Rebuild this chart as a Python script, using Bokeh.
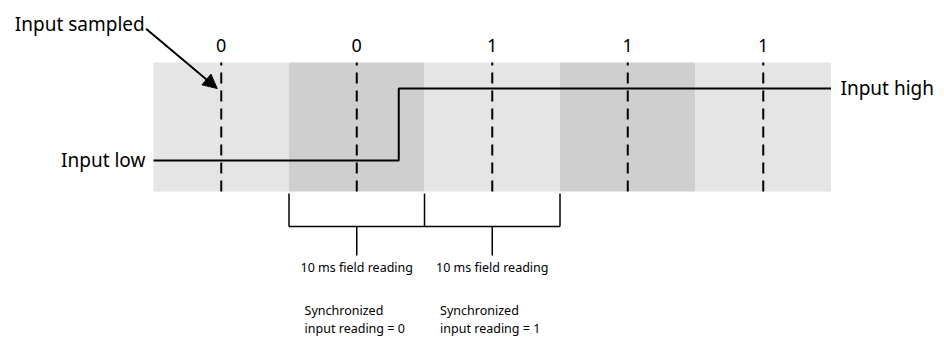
from bokeh.plotting import figure
from bokeh.models import ColumnDataSource, Range1d, Arrow, NormalHead
from bokeh.core.properties import value
from bokeh.embed import file_html
from bokeh.resources import INLINE

# ---- data (time in 10 ms field slots, level 0 = low, 1 = high) ----
slots = [0, 1, 2, 3, 4]
slot_shade = ["#e5e5e5", "#d0cfd0", "#e5e5e5", "#d0cfd0", "#e5e5e5"]
sample_values = ["0", "0", "1", "1", "1"]
input_time = [0, 1.81, 1.81, 5]
input_level = [0, 0, 1, 1]
reading_start = [1, 2]
reading_end = [2, 3]
reading_label = ["10 ms field reading", "10 ms field reading"]
sync_label_1 = ["Synchronized", "Synchronized"]
sync_label_2 = ["input reading = 0", "input reading = 1"]

FONT = value("Noto Sans")

p = figure(width=944, height=339, output_backend="svg", toolbar_location=None,
           x_range=Range1d(-1.1292, 5.8376), y_range=Range1d(-2.486, 2.222),
           min_border=0)
p.axis.visible = False
p.grid.visible = False
p.outline_line_color = None
p.background_fill_color = "white"
p.border_fill_color = "white"

band_top, band_bottom = 1.36, -0.43

# bands
p.quad(left=slots, right=[s + 1 for s in slots], top=band_top, bottom=band_bottom,
       fill_color=slot_shade, line_color=None)

# sample lines (dashed) at middle of each slot
mid = [s + 0.5 for s in slots]
p.segment(x0=mid, x1=mid, y0=band_bottom, y1=band_top, line_color="black",
          line_width=2, line_dash="11 7")

# sample value labels
p.text(x=mid, y=[1.6] * len(mid), text=sample_values, text_font=FONT,
       text_font_size="18px", text_align="center", text_baseline="middle", text_color="black")

# input signal
p.line(x=input_time, y=input_level, line_color="black", line_width=2)
p.text(x=[input_time[0] - 0.06], y=[input_level[0]], text=["Input low"], text_font=FONT,
       text_font_size="19px", text_align="right", text_baseline="middle", text_color="black")
p.text(x=[input_time[-1] + 0.07], y=[input_level[-1]], text=["Input high"], text_font=FONT,
       text_font_size="19px", text_align="left", text_baseline="middle", text_color="black")

# "Input sampled" annotation with arrow
p.text(x=[-0.065], y=[1.89], text=["Input sampled"], text_font=FONT,
       text_font_size="19px", text_align="right", text_baseline="middle", text_color="black")
p.add_layout(Arrow(end=NormalHead(size=14, fill_color="black", line_color="black"),
                   x_start=-0.055, y_start=1.83, x_end=0.47, y_end=1.0,
                   line_color="black", line_width=2))

# brackets
br_top, br_bar, br_stem = -0.46, -0.917, -1.32
ticks = sorted(set(reading_start + reading_end))
p.segment(x0=ticks, x1=ticks, y0=br_top, y1=br_bar, line_color="black", line_width=1.5)
p.segment(x0=[min(reading_start)], x1=[max(reading_end)], y0=br_bar, y1=br_bar,
          line_color="black", line_width=1.5)
rmid = [(a + b) / 2 for a, b in zip(reading_start, reading_end)]
p.segment(x0=rmid, x1=rmid, y0=br_bar, y1=br_stem, line_color="black", line_width=1.5)
p.text(x=rmid, y=[-1.49] * 2, text=reading_label, text_font=FONT, text_font_size="12.5px",
       text_align="center", text_baseline="middle", text_color="black")
left = [m - 0.385 for m in rmid]
p.text(x=left, y=[-2.08] * 2, text=sync_label_1, text_font=FONT, text_font_size="12.5px",
       text_align="left", text_baseline="middle", text_color="black")
p.text(x=left, y=[-2.33] * 2, text=sync_label_2, text_font=FONT, text_font_size="12.5px",
       text_align="left", text_baseline="middle", text_color="black")

open("out.html", "w").write(file_html(p, INLINE))
